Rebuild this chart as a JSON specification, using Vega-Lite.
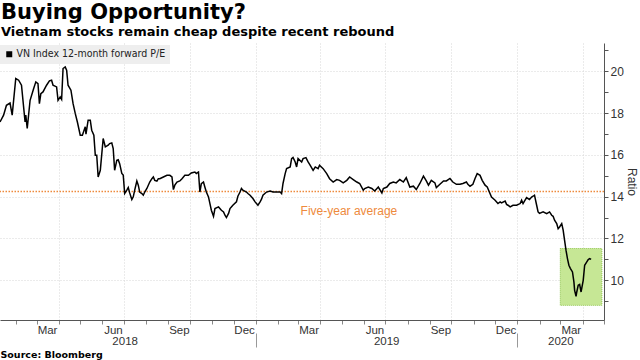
{
  "$schema": "https://vega.github.io/schema/vega-lite/v6.json",
  "width": 604,
  "height": 277,
  "autosize": {"type": "none"},
  "padding": {"left": 0, "top": 43, "right": 36, "bottom": 40},
  "background": "white",
  "title": {
    "text": "Buying Opportunity?",
    "subtitle": "Vietnam stocks remain cheap despite recent rebound",
    "anchor": "start",
    "frame": "group",
    "font": "DejaVu Sans",
    "fontSize": 21,
    "fontWeight": "bold",
    "color": "#000",
    "subtitleFont": "DejaVu Sans",
    "subtitleFontSize": 13,
    "subtitleFontWeight": "bold",
    "subtitleColor": "#000",
    "subtitlePadding": 3,
    "offset": 4,
    "dx": 1
  },
  "config": {"view": {"stroke": null}},
  "datasets": {
    "pe": [
      {"d": "2018-01-09", "v": 17.57}, {"d": "2018-01-14", "v": 17.9}, {"d": "2018-01-18", "v": 18.37}, {"d": "2018-01-23", "v": 18.48}, {"d": "2018-01-26", "v": 17.9}, {"d": "2018-01-31", "v": 19.65}, {"d": "2018-02-04", "v": 19.57}, {"d": "2018-02-08", "v": 19.33}, {"d": "2018-02-13", "v": 17.57}, {"d": "2018-02-14", "v": 17.9}, {"d": "2018-02-16", "v": 17.26}, {"d": "2018-02-20", "v": 18.61}, {"d": "2018-02-25", "v": 19.17}, {"d": "2018-02-28", "v": 19.49}, {"d": "2018-03-03", "v": 19.41}, {"d": "2018-03-05", "v": 18.45}, {"d": "2018-03-07", "v": 18.93}, {"d": "2018-03-10", "v": 19.01}, {"d": "2018-03-15", "v": 19.33}, {"d": "2018-03-19", "v": 19.54}, {"d": "2018-03-22", "v": 19.57}, {"d": "2018-03-24", "v": 19.33}, {"d": "2018-03-29", "v": 19.25}, {"d": "2018-03-31", "v": 18.61},
      {"d": "2018-04-03", "v": 18.77}, {"d": "2018-04-05", "v": 18.65}, {"d": "2018-04-07", "v": 20.13}, {"d": "2018-04-10", "v": 20.21}, {"d": "2018-04-12", "v": 20.05}, {"d": "2018-04-14", "v": 19.33}, {"d": "2018-04-18", "v": 19.09}, {"d": "2018-04-21", "v": 18.45}, {"d": "2018-04-24", "v": 17.98}, {"d": "2018-04-27", "v": 17.57}, {"d": "2018-05-01", "v": 16.94}, {"d": "2018-05-04", "v": 16.94}, {"d": "2018-05-08", "v": 17.34}, {"d": "2018-05-09", "v": 16.99}, {"d": "2018-05-12", "v": 17.66}, {"d": "2018-05-15", "v": 17.66}, {"d": "2018-05-17", "v": 17.18}, {"d": "2018-05-20", "v": 16.94}, {"d": "2018-05-22", "v": 15.98}, {"d": "2018-05-24", "v": 15.98}, {"d": "2018-05-26", "v": 14.94}, {"d": "2018-05-29", "v": 15.26},
      {"d": "2018-06-02", "v": 16.78}, {"d": "2018-06-05", "v": 16.38}, {"d": "2018-06-09", "v": 16.46}, {"d": "2018-06-11", "v": 16.54}, {"d": "2018-06-14", "v": 16.57}, {"d": "2018-06-16", "v": 16.3}, {"d": "2018-06-18", "v": 15.26}, {"d": "2018-06-21", "v": 15.74}, {"d": "2018-06-23", "v": 15.77}, {"d": "2018-06-25", "v": 15.58}, {"d": "2018-06-28", "v": 15.11}, {"d": "2018-06-30", "v": 15.03}, {"d": "2018-07-02", "v": 14.15}, {"d": "2018-07-05", "v": 14.31}, {"d": "2018-07-07", "v": 14.44}, {"d": "2018-07-09", "v": 14.18}, {"d": "2018-07-12", "v": 13.86}, {"d": "2018-07-14", "v": 13.99}, {"d": "2018-07-16", "v": 14.31}, {"d": "2018-07-19", "v": 14.75}, {"d": "2018-07-21", "v": 14.55}, {"d": "2018-07-23", "v": 14.22}, {"d": "2018-07-26", "v": 14.15}, {"d": "2018-07-28", "v": 14.07}, {"d": "2018-07-30", "v": 14.22},
      {"d": "2018-08-02", "v": 14.39}, {"d": "2018-08-06", "v": 14.7}, {"d": "2018-08-09", "v": 14.86}, {"d": "2018-08-11", "v": 14.94}, {"d": "2018-08-13", "v": 14.78}, {"d": "2018-08-16", "v": 14.74}, {"d": "2018-08-18", "v": 14.86}, {"d": "2018-08-20", "v": 14.86}, {"d": "2018-08-25", "v": 14.94}, {"d": "2018-08-30", "v": 15.02}, {"d": "2018-09-03", "v": 15.02}, {"d": "2018-09-06", "v": 14.94}, {"d": "2018-09-08", "v": 14.34}, {"d": "2018-09-10", "v": 14.55}, {"d": "2018-09-13", "v": 14.7}, {"d": "2018-09-17", "v": 14.75}, {"d": "2018-09-20", "v": 14.86}, {"d": "2018-09-24", "v": 15.02}, {"d": "2018-09-29", "v": 15.02},
      {"d": "2018-10-03", "v": 15.13}, {"d": "2018-10-08", "v": 15.18}, {"d": "2018-10-10", "v": 15.11}, {"d": "2018-10-13", "v": 15.18}, {"d": "2018-10-15", "v": 14.22}, {"d": "2018-10-17", "v": 14.62}, {"d": "2018-10-20", "v": 14.7}, {"d": "2018-10-22", "v": 14.45}, {"d": "2018-10-24", "v": 14.22}, {"d": "2018-10-27", "v": 13.99}, {"d": "2018-10-29", "v": 13.67}, {"d": "2018-10-31", "v": 13.35}, {"d": "2018-11-03", "v": 13.06}, {"d": "2018-11-05", "v": 13.43}, {"d": "2018-11-10", "v": 13.51}, {"d": "2018-11-14", "v": 13.35}, {"d": "2018-11-17", "v": 13.27}, {"d": "2018-11-19", "v": 13.11}, {"d": "2018-11-21", "v": 13.0}, {"d": "2018-11-24", "v": 13.2}, {"d": "2018-11-26", "v": 13.43}, {"d": "2018-11-30", "v": 13.59},
      {"d": "2018-12-05", "v": 13.75}, {"d": "2018-12-07", "v": 14.02}, {"d": "2018-12-10", "v": 14.22}, {"d": "2018-12-12", "v": 14.39}, {"d": "2018-12-14", "v": 14.31}, {"d": "2018-12-19", "v": 14.22}, {"d": "2018-12-21", "v": 14.15}, {"d": "2018-12-24", "v": 14.07}, {"d": "2018-12-28", "v": 13.91}, {"d": "2018-12-31", "v": 13.75},
      {"d": "2019-01-02", "v": 13.67}, {"d": "2019-01-04", "v": 13.59}, {"d": "2019-01-07", "v": 13.75}, {"d": "2019-01-09", "v": 13.88}, {"d": "2019-01-11", "v": 14.07}, {"d": "2019-01-16", "v": 14.22}, {"d": "2019-01-21", "v": 14.27}, {"d": "2019-01-25", "v": 14.22}, {"d": "2019-01-30", "v": 14.22}, {"d": "2019-02-04", "v": 14.22}, {"d": "2019-02-06", "v": 14.15}, {"d": "2019-02-08", "v": 14.63}, {"d": "2019-02-11", "v": 15.1}, {"d": "2019-02-13", "v": 15.34}, {"d": "2019-02-18", "v": 15.42}, {"d": "2019-02-20", "v": 15.82}, {"d": "2019-02-22", "v": 15.88}, {"d": "2019-02-25", "v": 15.66}, {"d": "2019-02-27", "v": 15.42},
      {"d": "2019-03-01", "v": 15.82}, {"d": "2019-03-06", "v": 15.66}, {"d": "2019-03-08", "v": 15.82}, {"d": "2019-03-12", "v": 15.87}, {"d": "2019-03-15", "v": 15.66}, {"d": "2019-03-18", "v": 15.5}, {"d": "2019-03-22", "v": 15.26}, {"d": "2019-03-25", "v": 15.42}, {"d": "2019-03-29", "v": 15.34}, {"d": "2019-03-31", "v": 15.5}, {"d": "2019-04-05", "v": 15.34}, {"d": "2019-04-10", "v": 15.1}, {"d": "2019-04-14", "v": 14.86}, {"d": "2019-04-19", "v": 14.7}, {"d": "2019-04-24", "v": 14.82}, {"d": "2019-04-28", "v": 14.78}, {"d": "2019-05-03", "v": 14.66}, {"d": "2019-05-08", "v": 14.78}, {"d": "2019-05-12", "v": 14.94}, {"d": "2019-05-17", "v": 14.82}, {"d": "2019-05-22", "v": 14.7}, {"d": "2019-05-26", "v": 14.63}, {"d": "2019-05-31", "v": 14.31},
      {"d": "2019-06-02", "v": 14.39}, {"d": "2019-06-07", "v": 14.46}, {"d": "2019-06-12", "v": 14.39}, {"d": "2019-06-16", "v": 14.27}, {"d": "2019-06-21", "v": 14.46}, {"d": "2019-06-26", "v": 14.18}, {"d": "2019-06-28", "v": 14.39}, {"d": "2019-07-03", "v": 14.46}, {"d": "2019-07-07", "v": 14.63}, {"d": "2019-07-12", "v": 14.7}, {"d": "2019-07-16", "v": 14.66}, {"d": "2019-07-21", "v": 14.82}, {"d": "2019-07-26", "v": 14.7}, {"d": "2019-07-30", "v": 14.91}, {"d": "2019-08-04", "v": 14.46}, {"d": "2019-08-09", "v": 14.5}, {"d": "2019-08-13", "v": 14.34}, {"d": "2019-08-18", "v": 14.63}, {"d": "2019-08-23", "v": 14.98}, {"d": "2019-08-27", "v": 14.75}, {"d": "2019-08-30", "v": 14.55},
      {"d": "2019-09-03", "v": 14.78}, {"d": "2019-09-08", "v": 14.66}, {"d": "2019-09-10", "v": 14.43}, {"d": "2019-09-15", "v": 14.59}, {"d": "2019-09-20", "v": 14.75}, {"d": "2019-09-24", "v": 14.75}, {"d": "2019-09-29", "v": 14.87}, {"d": "2019-10-03", "v": 14.7}, {"d": "2019-10-08", "v": 14.59}, {"d": "2019-10-13", "v": 14.59}, {"d": "2019-10-17", "v": 14.63}, {"d": "2019-10-22", "v": 14.7}, {"d": "2019-10-24", "v": 14.59}, {"d": "2019-10-27", "v": 14.5}, {"d": "2019-10-31", "v": 14.59}, {"d": "2019-11-03", "v": 14.87}, {"d": "2019-11-06", "v": 15.1}, {"d": "2019-11-10", "v": 15.02}, {"d": "2019-11-13", "v": 14.78}, {"d": "2019-11-17", "v": 14.55}, {"d": "2019-11-20", "v": 14.46}, {"d": "2019-11-23", "v": 14.22}, {"d": "2019-11-26", "v": 13.98},
      {"d": "2019-12-01", "v": 13.83}, {"d": "2019-12-05", "v": 13.67}, {"d": "2019-12-08", "v": 13.75}, {"d": "2019-12-10", "v": 13.7}, {"d": "2019-12-15", "v": 13.79}, {"d": "2019-12-17", "v": 13.63}, {"d": "2019-12-19", "v": 13.59}, {"d": "2019-12-22", "v": 13.51}, {"d": "2019-12-26", "v": 13.59}, {"d": "2019-12-31", "v": 13.59},
      {"d": "2020-01-05", "v": 13.67}, {"d": "2020-01-07", "v": 13.83}, {"d": "2020-01-09", "v": 13.67}, {"d": "2020-01-11", "v": 13.79}, {"d": "2020-01-14", "v": 13.96}, {"d": "2020-01-16", "v": 13.91}, {"d": "2020-01-18", "v": 13.86}, {"d": "2020-01-21", "v": 13.98}, {"d": "2020-01-23", "v": 14.02}, {"d": "2020-01-25", "v": 14.07}, {"d": "2020-01-28", "v": 13.59}, {"d": "2020-01-30", "v": 13.27}, {"d": "2020-02-01", "v": 13.2}, {"d": "2020-02-06", "v": 13.27}, {"d": "2020-02-11", "v": 13.19}, {"d": "2020-02-15", "v": 13.27}, {"d": "2020-02-18", "v": 13.11}, {"d": "2020-02-20", "v": 13.06}, {"d": "2020-02-22", "v": 12.87}, {"d": "2020-02-25", "v": 12.71}, {"d": "2020-02-27", "v": 12.47}, {"d": "2020-02-29", "v": 12.55},
      {"d": "2020-03-03", "v": 12.71}, {"d": "2020-03-05", "v": 12.4}, {"d": "2020-03-07", "v": 11.91}, {"d": "2020-03-09", "v": 11.43}, {"d": "2020-03-11", "v": 11.04}, {"d": "2020-03-13", "v": 10.72}, {"d": "2020-03-15", "v": 10.57}, {"d": "2020-03-18", "v": 10.4}, {"d": "2020-03-20", "v": 9.92}, {"d": "2020-03-21", "v": 9.52}, {"d": "2020-03-23", "v": 9.23}, {"d": "2020-03-24", "v": 9.44}, {"d": "2020-03-26", "v": 9.76}, {"d": "2020-03-28", "v": 9.8}, {"d": "2020-03-30", "v": 9.44}, {"d": "2020-04-02", "v": 10.0}, {"d": "2020-04-04", "v": 10.72}, {"d": "2020-04-07", "v": 10.88}, {"d": "2020-04-09", "v": 10.99}, {"d": "2020-04-11", "v": 11.04}, {"d": "2020-04-13", "v": 11.0}
    ],
    "avg": [{"value": 14.25}],
    "note": [{"date": "2019-05-11", "value": 13.33, "label": "Five-year average"}],
    "box": [{"start": "2020-03-01", "end": "2020-04-28", "low": 8.8, "high": 11.52}]
  },
  "layer": [
    {
      "data": {"name": "box"},
      "mark": {"type": "rect", "fill": "#c6e795", "stroke": "#8fc54a", "strokeWidth": 1, "strokeDash": [1, 1]},
      "encoding": {
        "x": {
          "field": "start", "type": "temporal",
          "scale": {"type": "utc", "domain": [{"year": 2018, "month": 1, "date": 9, "utc": true}, {"year": 2020, "month": 5, "date": 1, "utc": true}], "nice": false},
          "axis": {
            "orient": "bottom",
            "offset": 13,
            "values": [
              {"year": 2018, "month": 7, "date": 2, "utc": true},
              {"year": 2019, "month": 1, "date": 1, "utc": true},
              {"year": 2019, "month": 7, "date": 2, "utc": true},
              {"year": 2020, "month": 1, "date": 1, "utc": true},
              {"year": 2020, "month": 3, "date": 1, "utc": true}
            ],
            "labelExpr": "utcmonth(datum.value) == 0 ? '' : utcFormat(datum.value, '%Y')",
            "tickSize": 14,
            "tickOpacity": {"condition": {"test": "utcmonth(datum.value) == 0", "value": 1}, "value": 0},
            "tickColor": "#999",
            "domain": false,
            "grid": false,
            "labelPadding": -12,
            "labelFont": "Liberation Sans",
            "labelFontSize": 11.5,
            "labelColor": "#333",
            "labelOverlap": false,
            "labelFlush": false,
            "labelBound": false,
            "title": "Source: Bloomberg",
            "titleX": 0,
            "titleY": 24,
            "titleAlign": "left",
            "titleAnchor": "start",
            "titleBaseline": "alphabetic",
            "titleFont": "DejaVu Sans",
            "titleFontWeight": "bold",
            "titleFontSize": 9.5,
            "titleColor": "#000"
          }
        },
        "x2": {"field": "end"},
        "y": {"field": "low", "type": "quantitative", "axis": null},
        "y2": {"field": "high"}
      }
    },
    {
      "data": {"name": "avg"},
      "mark": {"type": "rule", "color": "#ee8a3c", "strokeWidth": 1.5, "strokeDash": [1.5, 1.5]},
      "encoding": {
        "y": {"field": "value", "type": "quantitative", "axis": null}
      }
    },
    {
      "data": {"name": "note"},
      "mark": {"type": "text", "font": "Liberation Sans", "fontSize": 12, "color": "#ee8a3c", "align": "center", "baseline": "middle"},
      "encoding": {
        "x": {"field": "date", "type": "temporal", "axis": null},
        "y": {"field": "value", "type": "quantitative", "axis": null},
        "text": {"field": "label"}
      }
    },
    {
      "data": {"name": "pe"},
      "mark": {"type": "line", "strokeWidth": 1.5},
      "encoding": {
        "x": {
          "field": "d", "type": "temporal",
          "scale": {"type": "utc", "domain": [{"year": 2018, "month": 1, "date": 9, "utc": true}, {"year": 2020, "month": 5, "date": 1, "utc": true}], "nice": false},
          "axis": {
            "orient": "bottom",
            "tickCount": {"interval": "month", "step": 1},
            "labelExpr": "utcmonth(datum.value) % 3 == 2 ? utcFormat(datum.value, '%b') : ''",
            "labelOffset": 10.5,
            "labelOverlap": false,
            "labelFlush": false,
            "labelBound": false,
            "labelPadding": 0,
            "tickSize": 4,
            "tickColor": "#888",
            "domainColor": "#555",
            "grid": true,
            "gridOpacity": {"condition": {"test": "utcmonth(datum.value) % 3 == 0", "value": 1}, "value": 0},
            "gridColor": "#d6d6d6",
            "gridDash": [1, 2],
            "labelFont": "Liberation Sans",
            "labelFontSize": 11.5,
            "labelColor": "#333",
            "title": null
          }
        },
        "y": {
          "field": "v", "type": "quantitative",
          "scale": {"domain": [8.1, 21.35], "nice": false, "zero": false},
          "axis": {
            "orient": "right",
            "values": [9, 10, 11, 12, 13, 14, 15, 16, 17, 18, 19, 20, 21],
            "labelExpr": "datum.value % 2 == 0 ? datum.label : ''",
            "grid": true,
            "gridOpacity": {"condition": {"test": "datum.value % 2 == 0", "value": 1}, "value": 0},
            "gridColor": "#d6d6d6",
            "gridDash": [1, 2],
            "tickSize": 4,
            "tickColor": "#555",
            "domainColor": "#555",
            "labelPadding": 2,
            "labelFont": "Liberation Sans",
            "labelFontSize": 12,
            "labelColor": "#333",
            "labelOverlap": false,
            "title": "Ratio",
            "titleFont": "Liberation Sans",
            "titleFontSize": 12,
            "titleFontWeight": "normal",
            "titleColor": "#333",
            "titlePadding": 1
          }
        },
        "color": {
          "datum": "VN Index 12-month forward P/E",
          "scale": {"range": ["#000000"]},
          "legend": {
            "orient": "none",
            "legendX": 0,
            "legendY": 2,
            "title": null,
            "fillColor": "#eeeeee",
            "padding": 4,
            "symbolType": "square",
            "symbolSize": 36,
            "symbolFillColor": "#000",
            "symbolStrokeColor": "#000",
            "symbolStrokeWidth": 0,
            "labelFont": "Liberation Sans Narrow, DejaVu Sans Condensed, sans-serif",
            "labelFontSize": 10.5,
            "labelColor": "#222",
            "labelOffset": 2
          }
        }
      }
    }
  ],
  "resolve": {"axis": {"x": "independent", "y": "independent"}}
}
